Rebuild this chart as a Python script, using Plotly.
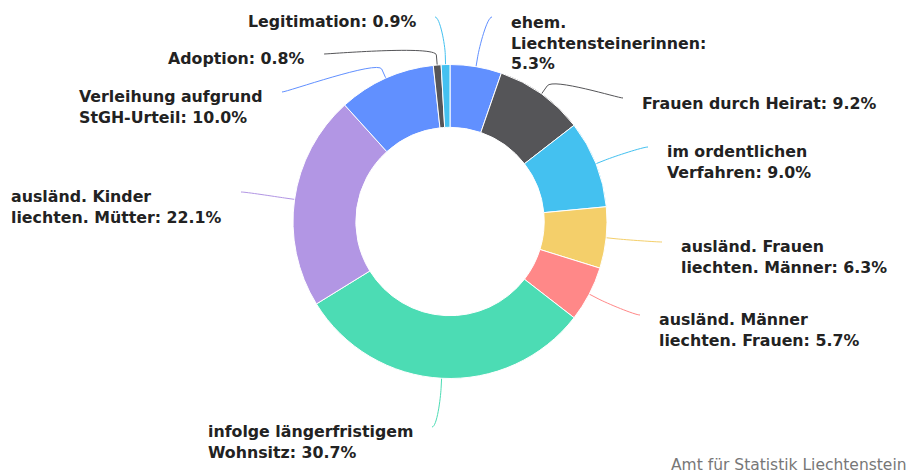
import math
import plotly.graph_objects as go

# ---------------- data ----------------
categories = [
    "ehem. Liechtensteinerinnen",
    "Frauen durch Heirat",
    "im ordentlichen Verfahren",
    "ausländ. Frauen liechten. Männer",
    "ausländ. Männer liechten. Frauen",
    "infolge längerfristigem Wohnsitz",
    "ausländ. Kinder liechten. Mütter",
    "Verleihung aufgrund StGH-Urteil",
    "Adoption",
    "Legitimation",
]
values = [5.3, 9.2, 9.0, 6.3, 5.7, 30.7, 22.1, 10.0, 0.8, 0.9]

# label text as displayed (line breaks as in the reference)
label_text = [
    "ehem.<br>Liechtensteinerinnen:<br>{v}%",
    "Frauen durch Heirat: {v}%",
    "im ordentlichen<br>Verfahren: {v}%",
    "ausländ. Frauen<br>liechten. Männer: {v}%",
    "ausländ. Männer<br>liechten. Frauen: {v}%",
    "infolge längerfristigem<br>Wohnsitz: {v}%",
    "ausländ. Kinder<br>liechten. Mütter: {v}%",
    "Verleihung aufgrund<br>StGH-Urteil: {v}%",
    "Adoption: {v}%",
    "Legitimation: {v}%",
]

# ---------------- style / layout ----------------
colors = ["#6190ff", "#555558", "#44c1f0", "#f4cf6a", "#ff8888",
          "#4cdcb4", "#b296e4", "#6190ff", "#555558", "#44c1f0"]

W, H = 909, 475
CX, CY, R = 450, 221.5, 157
HOLE = 0.6
FS = 15.8
LH = 1.3 * FS
BREAK = 10      # radial offset of connector break point
GAP = 17        # gap between connector end and label text

# label anchor (pixel x of the near edge, pixel y of first line centre, side)
label_anchor = [
    (509, 22, "L"),
    (640, 103, "L"),
    (665, 152, "L"),
    (679, 247, "L"),
    (657, 320, "L"),
    (415, 432, "R"),
    (224, 197, "R"),
    (265, 97, "R"),
    (307, 59, "R"),
    (418, 22, "R"),
]


def px(x, y):
    return x / W, 1 - y / H


fig = go.Figure()
fig.add_trace(go.Pie(
    labels=categories,
    values=values,
    sort=False,
    direction="clockwise",
    rotation=0,
    hole=HOLE,
    marker=dict(colors=colors, line=dict(color="white", width=1)),
    textinfo="none",
    hoverinfo="label+percent",
    showlegend=False,
    domain=dict(x=[(CX - R) / W, (CX + R) / W],
                y=[1 - (CY + R) / H, 1 - (CY - R) / H]),
))

total = sum(values)
cum = 0.0
shapes = []
annotations = []
for i, v in enumerate(values):
    mid = (cum + v / 2) / total * 2 * math.pi
    cum += v
    sx, sy = CX + R * math.sin(mid), CY - R * math.cos(mid)
    bx, by = CX + (R + BREAK) * math.sin(mid), CY - (R + BREAK) * math.cos(mid)
    lx, ly, side = label_anchor[i]
    if side == "L":
        ex = lx - GAP
        c1x = ex - 5
    else:
        ex = lx + GAP
        c1x = ex + 5
    ey = ly - 5
    c2x, c2y = 2 * bx - sx, 2 * by - sy
    pts = [px(ex, ey), px(c1x, ey), px(c2x, c2y), px(bx, by), px(sx, sy)]
    path = (f"M {pts[0][0]},{pts[0][1]} C {pts[1][0]},{pts[1][1]} "
            f"{pts[2][0]},{pts[2][1]} {pts[3][0]},{pts[3][1]} "
            f"L {pts[4][0]},{pts[4][1]}")
    shapes.append(dict(type="path", path=path, xref="paper", yref="paper",
                       line=dict(color=colors[i], width=1), layer="below"))

    txt = label_text[i].format(v=f"{v:.1f}")
    n = txt.count("<br>") + 1
    ymid = ly + (n - 1) * LH / 2
    ax, ay = px(lx, ymid)
    annotations.append(dict(
        text=txt, x=ax, y=ay, xref="paper", yref="paper",
        xanchor="left" if side == "L" else "right", yanchor="middle",
        align="left", showarrow=False,
        font=dict(family="DejaVu Sans", size=FS, color="#222222", weight="bold"),
    ))

annotations.append(dict(
    text="Amt für Statistik Liechtenstein",
    x=1.0, y=1 - 465 / H, xref="paper", yref="paper",
    xanchor="right", yanchor="middle", showarrow=False,
    font=dict(family="DejaVu Sans", size=15.5, color="#777777"),
))

fig.update_layout(
    width=W, height=H,
    margin=dict(l=0, r=0, t=0, b=0),
    paper_bgcolor="white",
    plot_bgcolor="white",
    shapes=shapes,
    annotations=annotations,
)

fig.write_html(
    "out.html",
    config={"displayModeBar": False},
    post_script="document.body.style.margin='0';document.body.style.overflow='hidden';",
)
